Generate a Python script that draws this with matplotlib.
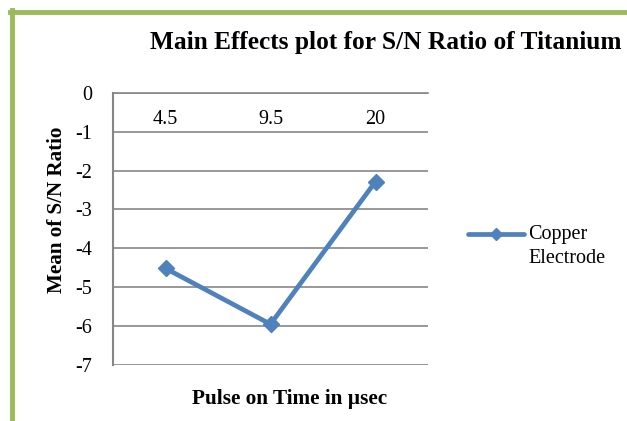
import numpy as np
import matplotlib.pyplot as plt
from matplotlib.lines import Line2D
from matplotlib.legend_handler import HandlerLine2D

# data
pulse_on = ['4.5', '9.5', '20']
sn_mean = [-4.52, -5.96, -2.28]
series_name = 'Copper\nElectrode'
yticks = [0, -1, -2, -3, -4, -5, -6, -7]

plt.rcParams['font.family'] = ['Liberation Serif', 'DejaVu Serif']


class FirstLineHandler(HandlerLine2D):
    # Excel puts the legend key next to the first line of a wrapped label
    def create_artists(self, legend, orig_handle, xdescent, ydescent,
                       width, height, fontsize, trans):
        arts = super().create_artists(legend, orig_handle, xdescent, ydescent,
                                      width, height, fontsize, trans)
        for a in arts:
            a.set_ydata(np.asarray(a.get_ydata()) + fontsize * 0.6)
        return arts


fig = plt.figure(figsize=(6.27, 4.21), dpi=100)
ax = fig.add_axes([113 / 627, 1 - 364.5 / 421, 315 / 627, 271.3 / 421])

grey = '#868686'
blue = '#4F81BD'

x = range(len(pulse_on))
line, = ax.plot(x, sn_mean, color=blue, lw=3.4, marker='D', ms=8.5,
                label=series_name, solid_capstyle='round')

ax.set_xlim(-0.5, len(pulse_on) - 0.5)
ax.set_ylim(-7, 0)
ax.set_yticks(yticks)
ax.set_yticklabels([str(t) for t in yticks])
ax.grid(axis='y', color=grey, lw=1.2)
ax.set_axisbelow(True)

ax.set_xticks(list(x))
ax.set_xticklabels(pulse_on)
ax.tick_params(axis='x', top=False, bottom=False, labeltop=True,
               labelbottom=False, length=0, pad=-26, labelsize=14.5)
ax.tick_params(axis='y', length=0, pad=15, labelsize=14.5)

for side in ['right', 'bottom']:
    ax.spines[side].set_visible(False)
ax.spines['left'].set_color(grey)
ax.spines['left'].set_linewidth(1.5)
ax.spines['top'].set_color(grey)
ax.spines['top'].set_linewidth(1.2)

ax.set_ylabel('Mean of S/N Ratio', fontsize=15.2, fontweight='bold')
ax.yaxis.set_label_coords(-0.145, 0.57)
ax.set_xlabel('Pulse on Time in µsec', fontsize=15.3, fontweight='bold')
ax.xaxis.set_label_coords(0.562, -0.09)

fig.text(0.616, 0.90, 'Main Effects plot for S/N Ratio of Titanium',
         ha='center', va='center', fontsize=18.3, fontweight='bold')

leg = ax.legend(loc='upper left', bbox_to_anchor=(1.127, 0.515), frameon=False,
                fontsize=14.5, handlelength=2.8, handletextpad=0.2,
                borderaxespad=0, borderpad=0, labelspacing=0,
                handler_map={line: FirstLineHandler()})
for h in leg.legend_handles:
    h.set_markersize(6)
for t in leg.get_texts():
    t.set_linespacing(1.35)

# green chart border (left and top edges visible)
green = '#9BBB59'
fig.add_artist(Line2D([12 / 627, 12 / 627], [0, 1 - 10 / 421],
                      transform=fig.transFigure, color=green, lw=3.5))
fig.add_artist(Line2D([10 / 627, 1], [1 - 12 / 421, 1 - 12 / 421],
                      transform=fig.transFigure, color=green, lw=3.5))

fig.savefig('out.png', dpi=100)
